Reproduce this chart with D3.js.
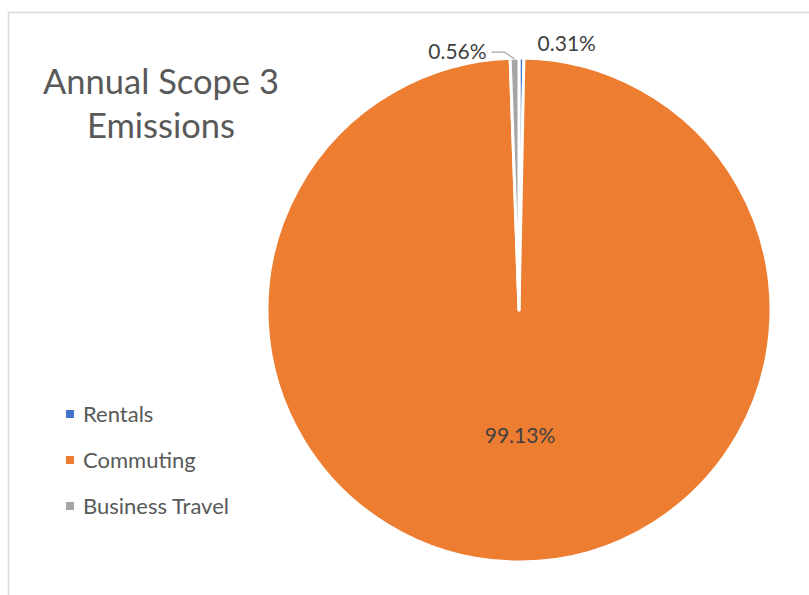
<!DOCTYPE html>
<html lang="en">
<head>
    <meta charset="UTF-8">
    <title>Annual Scope 3 Emissions</title>
    <script src="https://d3js.org/d3.v7.js"></script>
    <style>
        body { margin: 0; background: #fff; }
        text { font-family: Lato, "Open Sans", sans-serif; }
    </style>
</head>
<body>
    <div class="canvas"></div>
    <script>
        // data
        let categories = ["Rentals", "Commuting", "Business Travel"];
        let values = [0.31, 99.13, 0.56];
        let labels = ["0.31%", "99.13%", "0.56%"];
        let colors = ["#4472C4", "#ED7D31", "#A5A5A5"];

        let W = 809, H = 595;
        let cx = 519, cy = 310, radius = 252;

        let svg = d3.select(".canvas").append("svg")
            .attr("width", W).attr("height", H);

        // chart border (extends past right/bottom edge)
        svg.append("rect")
            .attr("x", 8.5).attr("y", 12.5)
            .attr("width", W + 20).attr("height", H + 20)
            .attr("fill", "none").attr("stroke", "#d9d9d9").attr("stroke-width", 1.5);

        // title
        let title = svg.append("text")
            .attr("x", 161).attr("y", 94)
            .attr("text-anchor", "middle")
            .attr("fill", "#595959")
            .style("font-size", "34.5px");
        title.append("tspan").attr("x", 161).text("Annual Scope 3");
        title.append("tspan").attr("x", 161).attr("dy", 44).text("Emissions");

        // pie
        let color = d3.scaleOrdinal().domain(categories).range(colors);
        let pie = d3.pie().sort(null).value(d => d.value);
        let data = categories.map((c, i) => ({ name: c, value: values[i], label: labels[i] }));
        let arcs = pie(data);
        let arc = d3.arc().innerRadius(0).outerRadius(radius);

        let g = svg.append("g").attr("transform", "translate(" + cx + "," + cy + ")");
        g.selectAll(".slice").data(arcs).enter().append("path")
            .attr("class", "slice")
            .attr("d", arc)
            .attr("fill", d => color(d.data.name))
            .attr("stroke", "#fff")
            .attr("stroke-width", 3)
            .attr("stroke-linejoin", "round");

        // labels
        let pt = (a, r) => [Math.sin(a) * r, -Math.cos(a) * r];
        arcs.forEach((d, i) => {
            let mid = (d.startAngle + d.endAngle) / 2;
            if (d.data.name == "Commuting") {
                let p = pt(mid, radius * 0.5);
                g.append("text").attr("x", p[0]).attr("y", p[1] + 7)
                    .attr("text-anchor", "middle").attr("fill", "#404040")
                    .style("font-size", "21px").text(d.data.label);
            } else if (mid < Math.PI) {
                let p = pt(mid, radius + 14);
                g.append("text").attr("x", p[0] + 16).attr("y", p[1] + 7)
                    .attr("text-anchor", "start").attr("fill", "#404040")
                    .style("font-size", "21px").text(d.data.label);
            } else {
                let p0 = pt(mid, radius - 1);
                let p1 = [p0[0] - 10, p0[1] - 7];
                let p2 = [p1[0] - 13, p1[1]];
                g.append("polyline")
                    .attr("points", [p0, p1, p2].map(p => p.join(",")).join(" "))
                    .attr("fill", "none").attr("stroke", "#a6a6a6").attr("stroke-width", 1.2);
                g.append("text").attr("x", p2[0] - 5).attr("y", p2[1] + 7)
                    .attr("text-anchor", "end").attr("fill", "#404040")
                    .style("font-size", "21px").text(d.data.label);
            }
        });

        // legend
        let legend = svg.append("g").selectAll(".leg").data(categories).enter().append("g")
            .attr("class", "leg")
            .attr("transform", (d, i) => "translate(66," + (414 + i * 46) + ")");
        legend.append("rect").attr("x", 0).attr("y", -4).attr("width", 8).attr("height", 8)
            .attr("fill", d => color(d));
        legend.append("text").attr("x", 17).attr("y", 7.5)
            .attr("fill", "#595959").style("font-size", "22px").text(d => d);
    </script>
</body>
</html>
